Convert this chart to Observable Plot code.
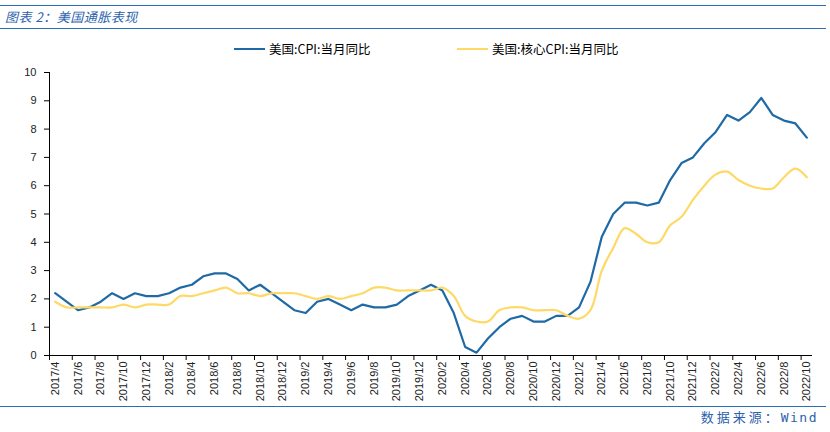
<!DOCTYPE html>
<html><head><meta charset="utf-8">
<script src="https://cdn.jsdelivr.net/npm/d3@7"></script>
<script src="https://cdn.jsdelivr.net/npm/@observablehq/plot@0.6"></script>
<style>
body{margin:0;width:830px;height:432px;position:relative;background:#fff;font-family:"Liberation Sans",Arial,sans-serif;overflow:hidden}
.hl{position:absolute;left:0;width:826px;height:0;border-top:1.5px solid #2a6fb5}
#title{position:absolute;left:5px;top:9px;font-style:italic;font-size:13px;font-family:"Noto Sans CJK SC";color:#2d62ad;letter-spacing:0.5px;line-height:16px}
.lg{position:absolute;top:41px;display:flex;align-items:center;font-size:12.5px;font-family:"Noto Sans CJK SC","Liberation Sans";color:#000;line-height:16px}
.sw{display:inline-block;width:31px;height:2.5px;margin-right:4px}
#src{position:absolute;right:12px;top:409px;font-size:13px;font-family:"Noto Sans CJK SC";color:#2d62ad;letter-spacing:3px;line-height:16px}
#src span{font-family:"DejaVu Sans Mono";letter-spacing:1.5px}
#chart{position:absolute;left:0;top:62px}
</style></head><body>
<div class="hl" style="top:5px"></div>
<div id="title">图表 2：美国通胀表现</div>
<div class="hl" style="top:27.5px"></div>
<div id="legend"></div>
<div id="chart"></div>
<div class="hl" style="top:406px"></div>
<div id="src">数据来源：<span>Wind</span></div>
<script>
const months = ["2017/4","2017/5","2017/6","2017/7","2017/8","2017/9","2017/10","2017/11","2017/12",
"2018/1","2018/2","2018/3","2018/4","2018/5","2018/6","2018/7","2018/8","2018/9","2018/10","2018/11","2018/12",
"2019/1","2019/2","2019/3","2019/4","2019/5","2019/6","2019/7","2019/8","2019/9","2019/10","2019/11","2019/12",
"2020/1","2020/2","2020/3","2020/4","2020/5","2020/6","2020/7","2020/8","2020/9","2020/10","2020/11","2020/12",
"2021/1","2021/2","2021/3","2021/4","2021/5","2021/6","2021/7","2021/8","2021/9","2021/10","2021/11","2021/12",
"2022/1","2022/2","2022/3","2022/4","2022/5","2022/6","2022/7","2022/8","2022/9","2022/10"];
const cpi = [2.2,1.9,1.6,1.7,1.9,2.2,2.0,2.2,2.1,
2.1,2.2,2.4,2.5,2.8,2.9,2.9,2.7,2.3,2.5,2.2,1.9,
1.6,1.5,1.9,2.0,1.8,1.6,1.8,1.7,1.7,1.8,2.1,2.3,
2.5,2.3,1.5,0.3,0.1,0.6,1.0,1.3,1.4,1.2,1.2,1.4,
1.4,1.7,2.6,4.2,5.0,5.4,5.4,5.3,5.4,6.2,6.8,7.0,
7.5,7.9,8.5,8.3,8.6,9.1,8.5,8.3,8.2,7.7];
const core = [1.9,1.7,1.7,1.7,1.7,1.7,1.8,1.7,1.8,
1.8,1.8,2.1,2.1,2.2,2.3,2.4,2.2,2.2,2.1,2.2,2.2,
2.2,2.1,2.0,2.1,2.0,2.1,2.2,2.4,2.4,2.3,2.3,2.3,
2.3,2.4,2.1,1.4,1.2,1.2,1.6,1.7,1.7,1.6,1.6,1.6,
1.4,1.3,1.6,3.0,3.8,4.5,4.3,4.0,4.0,4.6,4.9,5.5,
6.0,6.4,6.5,6.2,6.0,5.9,5.9,6.3,6.6,6.3];
const seriesNames = ["美国:CPI:当月同比","美国:核心CPI:当月同比"];
const seriesColors = ["#1f6aa5","#ffd966"];
const yTicks = [0,1,2,3,4,5,6,7,8,9,10];

// legend
const legendX = [234, 457];
const lg = document.getElementById("legend");
seriesNames.forEach((n,k)=>{
  const d = document.createElement("div");
  d.className = "lg";
  d.style.left = legendX[k] + "px";
  d.innerHTML = `<span class="sw" style="background:${seriesColors[k]}"></span><span>${n}</span>`;
  lg.appendChild(d);
});

const idx = months.map((m,i)=>i);
const boundaries = idx.filter(i=>i%2===0);
const centers = boundaries.map(i=>i+0.5);

const plot = Plot.plot({
  width: 830, height: 340,
  marginLeft: 49, marginRight: 18, marginTop: 10, marginBottom: 47,
  x: {domain: [0, months.length], axis: null},
  y: {domain: [0, 10], axis: null},
  style: {fontFamily: "'Liberation Sans', Arial, sans-serif", fontSize: "11px", color: "#000", background: "transparent", overflow: "visible"},
  marks: [
    Plot.line(idx, {x: i=>i+0.5, y: i=>cpi[i], stroke: seriesColors[0], strokeWidth: 2.2}),
    Plot.line(idx, {x: i=>i+0.5, y: i=>core[i], stroke: seriesColors[1], strokeWidth: 2.2, curve: "catmull-rom"}),
    Plot.ruleY([0], {stroke: "#000", strokeWidth: 1}),
    Plot.ruleX([0], {y1: 0, y2: 10, stroke: "#000", strokeWidth: 1}),
    Plot.axisY({ticks: yTicks, tickSize: 5, tickPadding: 8, tickFormat: d=>String(d), anchor: "left", stroke: "#000", fill: "#222"}),
    Plot.axisX({ticks: boundaries, tickSize: 5, tickFormat: ()=>"", anchor: "bottom", stroke: "#000"}),
    Plot.axisX({ticks: centers, tickSize: 0, tickPadding: 6, tickRotate: -90, tickFormat: c=>months[Math.round(c-0.5)], anchor: "bottom", fill: "#222"})
  ]
});
document.getElementById("chart").appendChild(plot);
</script>
</body></html>
